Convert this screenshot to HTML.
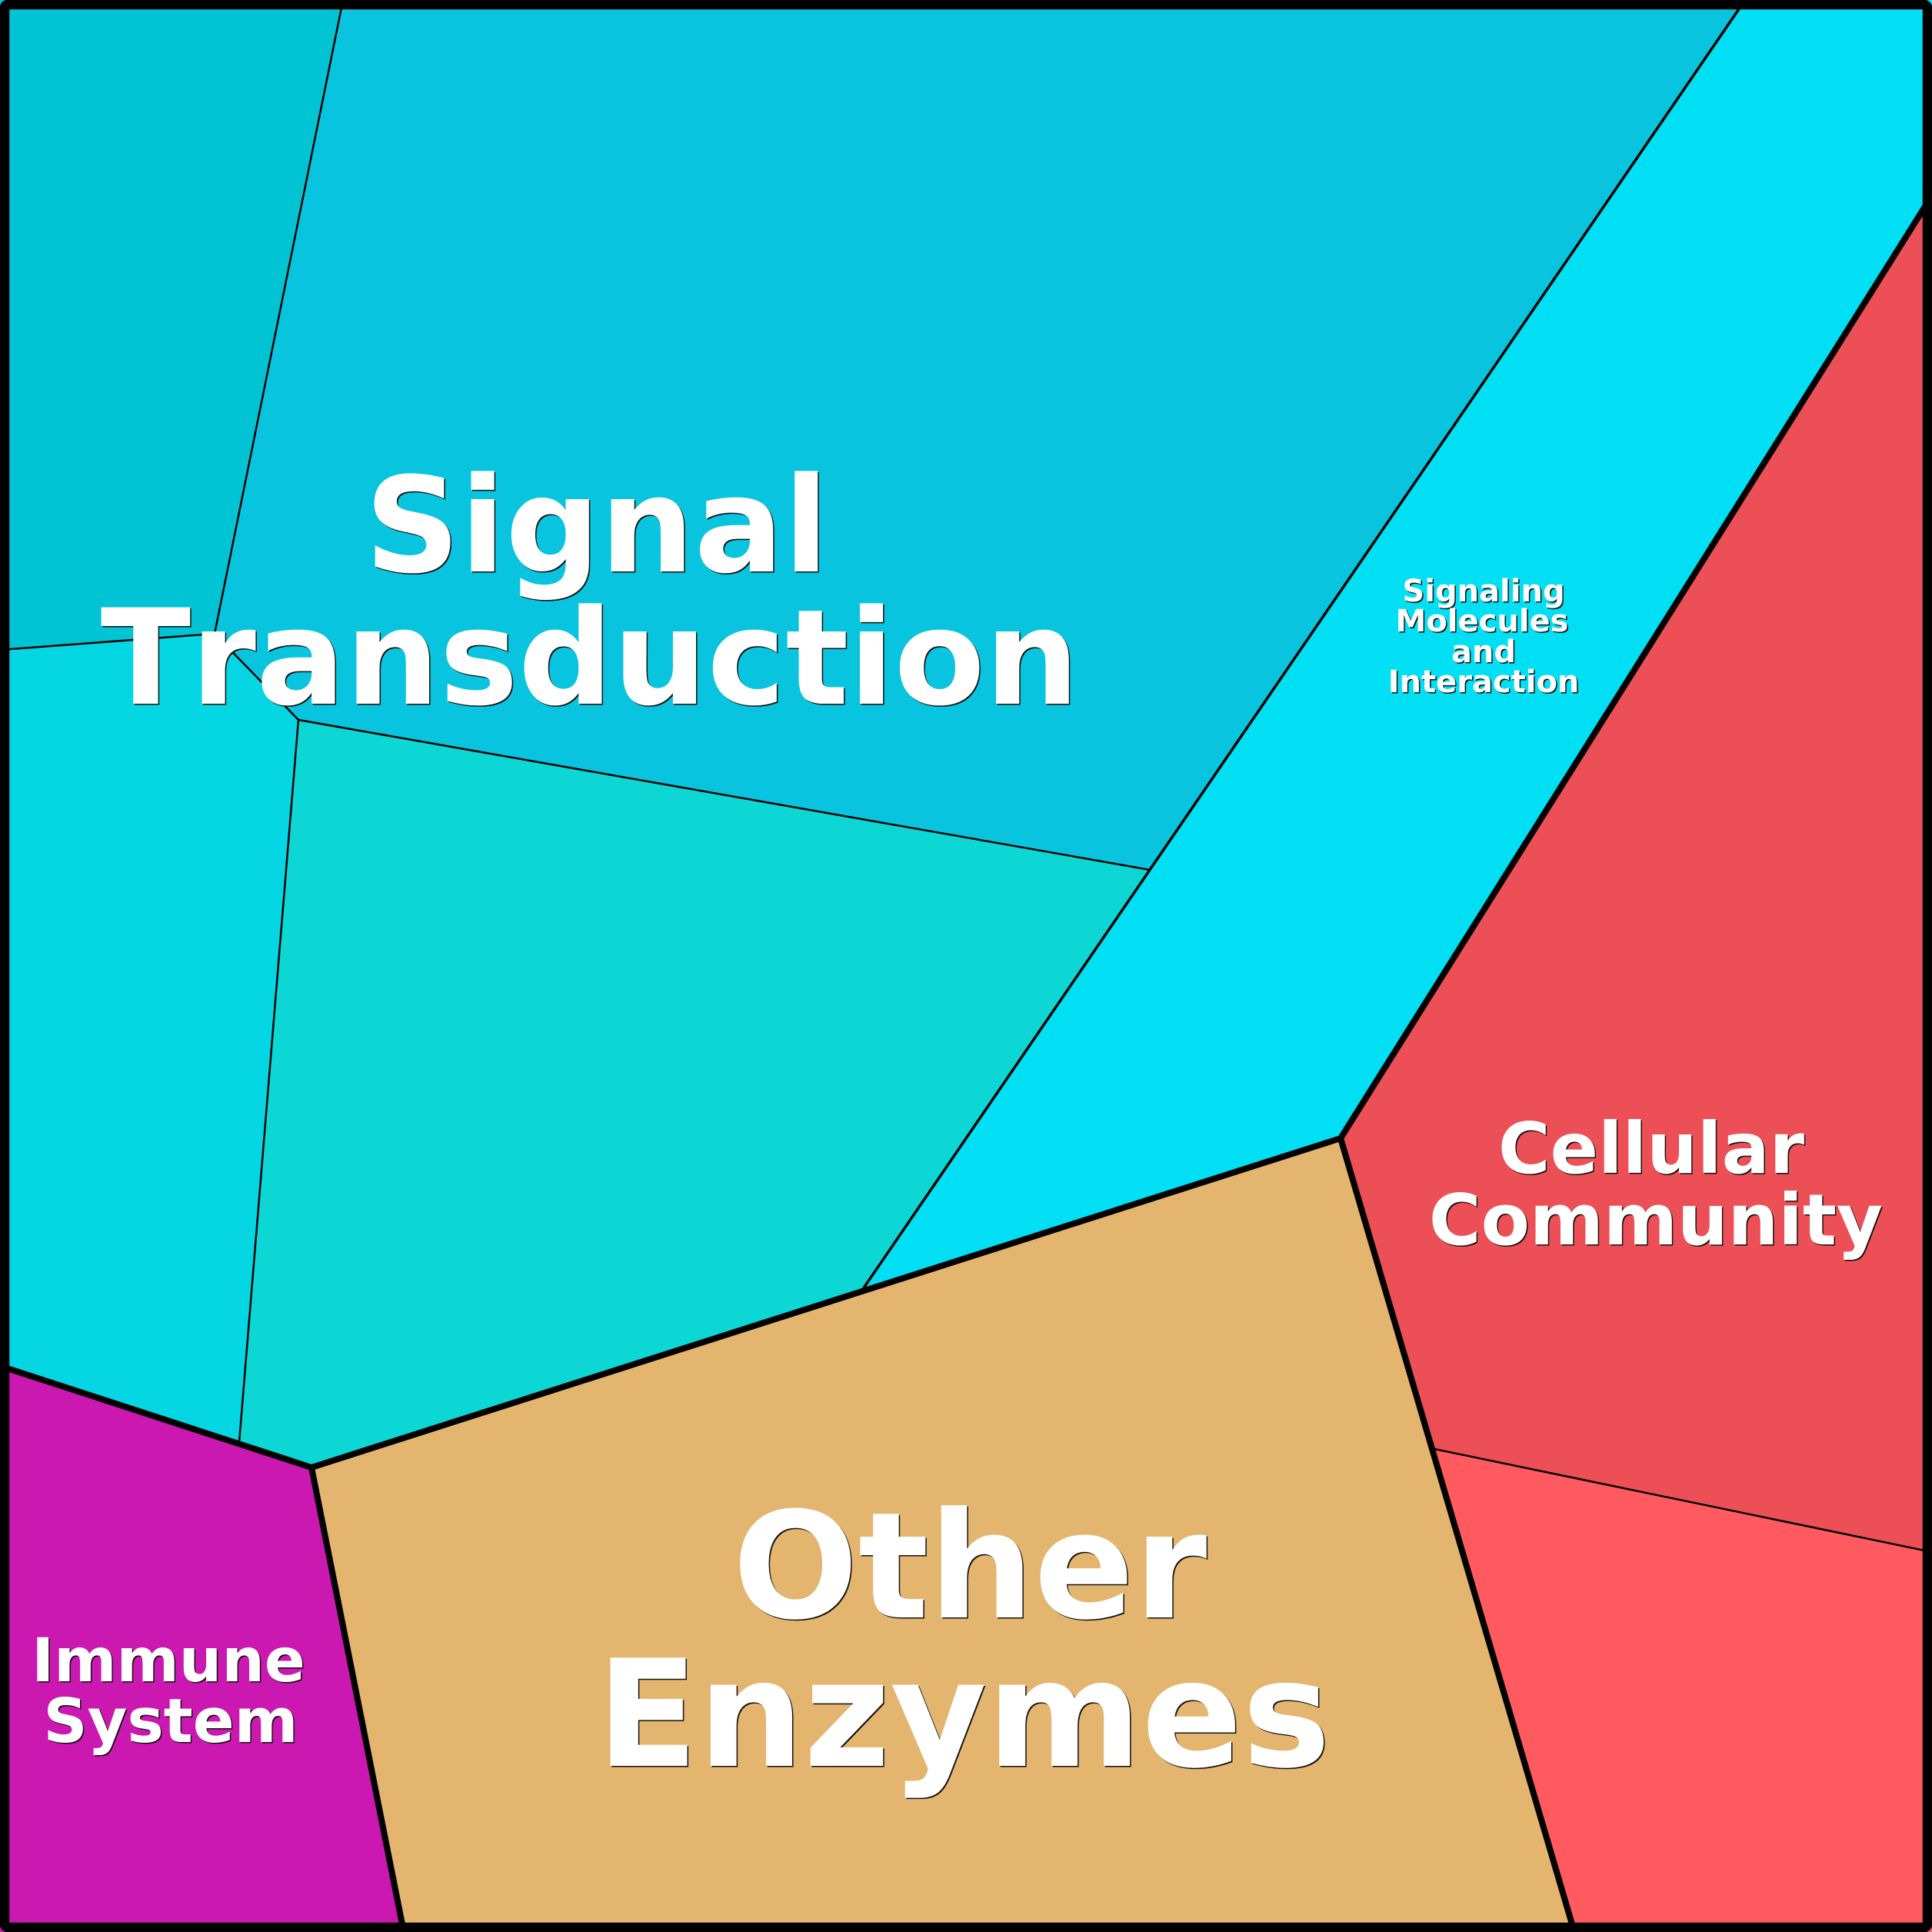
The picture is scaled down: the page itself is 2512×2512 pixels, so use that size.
<!DOCTYPE html>
<html>
<head>
<meta charset="utf-8">
<style>
html,body{margin:0;padding:0;background:#fff}
svg{display:block}
text{font-family:"DejaVu Sans","Liberation Sans",sans-serif;font-weight:bold;text-anchor:middle;font-kerning:none}
.s{fill:#111}
.w{fill:#fff}
</style>
</head>
<body>
<svg width="2512" height="2512" viewBox="0 0 2512 2512" xmlns="http://www.w3.org/2000/svg">
<rect width="2512" height="2512" fill="#00c4d4"/>
<polygon points="446,0 2269,0 1495,1131 388,936 279,824" fill="#09c4de"/>
<polygon points="0,845 279,824 388,936 311,1875 0,1776" fill="#05d6e4"/>
<polygon points="388,936 1495,1131 1122,1676 405,1908 311,1875" fill="#0cd7d4"/>
<polygon points="2269,0 2512,0 2512,254 1743,1480 1122,1676" fill="#00dff4"/>
<polygon points="2512,254 2512,2018 1865,1884 1743,1480" fill="#ec4f55"/>
<polygon points="1865,1884 2512,2018 2512,2512 2047,2512" fill="#ff5a5f"/>
<polygon points="405,1908 1743,1480 2047,2512 525,2512" fill="#e4b56f"/>
<polygon points="0,1776 405,1908 525,2512 0,2512" fill="#ca18b0"/>

<g fill="none" stroke="#000" stroke-linejoin="miter">
<path d="M446,0 L279,824 L0,845" stroke-width="2.5"/>
<path d="M279,824 L388,936 L311,1875" stroke-width="2.5"/>
<path d="M388,936 L1495,1131" stroke-width="2.5"/>
<path d="M2269,0 L1122,1676" stroke-width="3.5"/>
<path d="M1865,1884 L2512,2018" stroke-width="2.5"/>
<path d="M0,1776 L405,1908 L1743,1480 L2512,254" stroke-width="8"/>
<path d="M405,1908 L525,2512" stroke-width="8"/>
<path d="M1743,1480 L2047,2512" stroke-width="8"/>
<rect x="6" y="6" width="2500" height="2500" rx="4" stroke-width="12.5"/>
</g>

<g class="s" transform="translate(1.5,1.5)">
<text x="776" y="743" font-size="172">Signal</text>
<text x="767" y="915" font-size="172">Transduction</text>
<text x="1261" y="2103" font-size="192">Other</text>
<text x="1253" y="2296" font-size="193">Enzymes</text>
<text x="2147" y="1525" font-size="92.2">Cellular</text>
<text x="2153" y="1618" font-size="92.2">Community</text>
<text x="219" y="2186" font-size="78">Immune</text>
<text x="222" y="2265" font-size="79.5">System</text>
<text x="1929" y="782" font-size="40">Signaling</text>
<text x="1927" y="821" font-size="40">Molecules</text>
<text x="1929" y="861" font-size="40">and</text>
<text x="1929" y="900" font-size="40">Interaction</text>
</g>
<g class="w">
<text x="776" y="743" font-size="172">Signal</text>
<text x="767" y="915" font-size="172">Transduction</text>
<text x="1261" y="2103" font-size="192">Other</text>
<text x="1253" y="2296" font-size="193">Enzymes</text>
<text x="2147" y="1525" font-size="92.2">Cellular</text>
<text x="2153" y="1618" font-size="92.2">Community</text>
<text x="219" y="2186" font-size="78">Immune</text>
<text x="222" y="2265" font-size="79.5">System</text>
<text x="1929" y="782" font-size="40">Signaling</text>
<text x="1927" y="821" font-size="40">Molecules</text>
<text x="1929" y="861" font-size="40">and</text>
<text x="1929" y="900" font-size="40">Interaction</text>
</g>
</svg>
</body>
</html>
